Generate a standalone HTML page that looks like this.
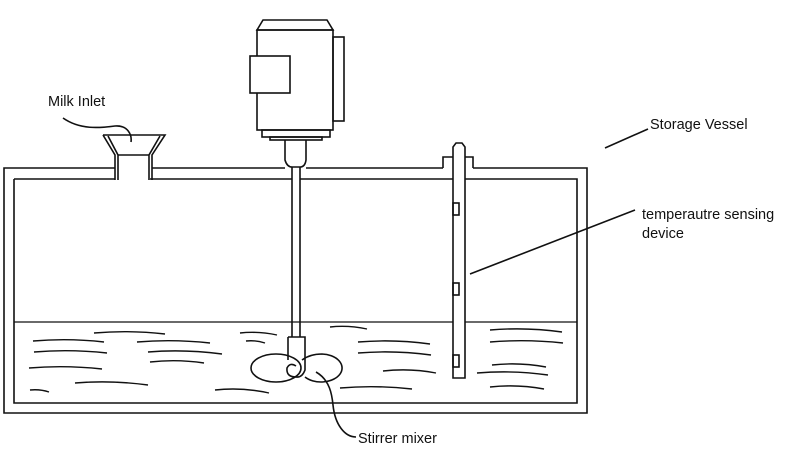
<!DOCTYPE html>
<html><head><meta charset="utf-8"><style>
html,body{margin:0;padding:0;background:#fff;}
svg{display:block}
text{font-family:"Liberation Sans",sans-serif;font-size:14.5px;fill:#111;}
</style></head><body>
<svg width="802" height="471" viewBox="0 0 802 471" xmlns="http://www.w3.org/2000/svg">
<g fill="none" stroke="#111" stroke-width="1.6">
<!-- tank -->
<path d="M115,168 H4 V413 H587 V168 H473"/>
<path d="M443,168 H306"/>
<path d="M285,168 H152"/>
<path d="M14,179 H115 M150,179 H292 M300,179 H453 M465,179 H577 V403 H14 V179"/>
<path d="M14,322 H453 M465,322 H577" stroke-width="1.3"/>
<!-- inlet -->
<path d="M103,135 H165 L152,155 V180 M103,135 L115,155 V180"/>
<path d="M108,136 L118,155 V180 M160,136 L149,155 V180 M118,155 H149"/>
<path d="M63,118 C80,130 100,128 115,126 C128,125 132,135 131,142"/>
<!-- motor -->
<path d="M257,30 L263,20 H327 L333,30 Z"/>
<rect x="257" y="30" width="76" height="100"/>
<rect x="333" y="37" width="11" height="84"/>
<rect x="250" y="56" width="40" height="37" fill="#fff"/>
<rect x="262" y="130" width="68" height="7"/>
<rect x="270" y="137" width="52" height="3"/>
<path d="M285,140 V160 Q287,167 292,167 H300 Q305,167 306,160 V140"/>
<path d="M292,167 V337 M300,167 V337"/>
<!-- stirrer -->
<path d="M288,337 H305 V370 Q302,378 296,377 Q286,377 287,368 Q290,362 296,366"/>
<path d="M288,337 V360"/>
<ellipse cx="276" cy="368" rx="25" ry="14"/>
<path d="M302,360 Q310,354 322,354 A21,14 0 1 1 305,377"/>
<path d="M316,372 C330,380 332,395 333,405 C335,425 345,437 356,437"/>
<!-- sensor -->
<path d="M453,378 V147 L456,143 H462 L465,147 V378 Z" fill="#fff"/>
<path d="M443,168 V157 H453 M465,157 H473 V168"/>
<rect x="453" y="203" width="6" height="12"/>
<rect x="453" y="283" width="6" height="12"/>
<rect x="453" y="355" width="6" height="12"/>
<path d="M470,274 L635,210"/>
<path d="M605,148 L648,129"/>
<!-- waves -->
<g stroke-width="1.4">
<path d="M33,341 q36,-3 71,1"/><path d="M94,333 q36,-3 71,1"/><path d="M137,342 q36,-3 73,1"/>
<path d="M34,352 q36,-3 73,1"/><path d="M148,352 q36,-3 74,2"/><path d="M150,362 q27,-3 54,1"/>
<path d="M29,368 q36,-3 73,1"/><path d="M75,383 q36,-3 73,2"/><path d="M30,390 q10,-1 19,2"/>
<path d="M215,390 q27,-3 54,3"/><path d="M240,333 q18,-2 37,2"/><path d="M246,341 q10,-1 19,2"/>
<path d="M330,327 q18,-2 37,2"/><path d="M358,342 q36,-3 72,2"/><path d="M358,353 q36,-3 73,2"/>
<path d="M383,371 q27,-3 53,2"/><path d="M340,388 q36,-3 72,1"/>
<path d="M490,330 q36,-3 72,2"/><path d="M490,342 q36,-3 73,1"/><path d="M492,365 q27,-3 54,2"/>
<path d="M477,373 q36,-3 71,2"/><path d="M490,387 q27,-3 54,2"/>
</g>
</g>
<text x="48" y="106">Milk Inlet</text>
<text x="650" y="129">Storage Vessel</text>
<text x="642" y="219">temperautre sensing</text>
<text x="642" y="238">device</text>
<text x="358" y="443">Stirrer mixer</text>
</svg>
</body></html>
